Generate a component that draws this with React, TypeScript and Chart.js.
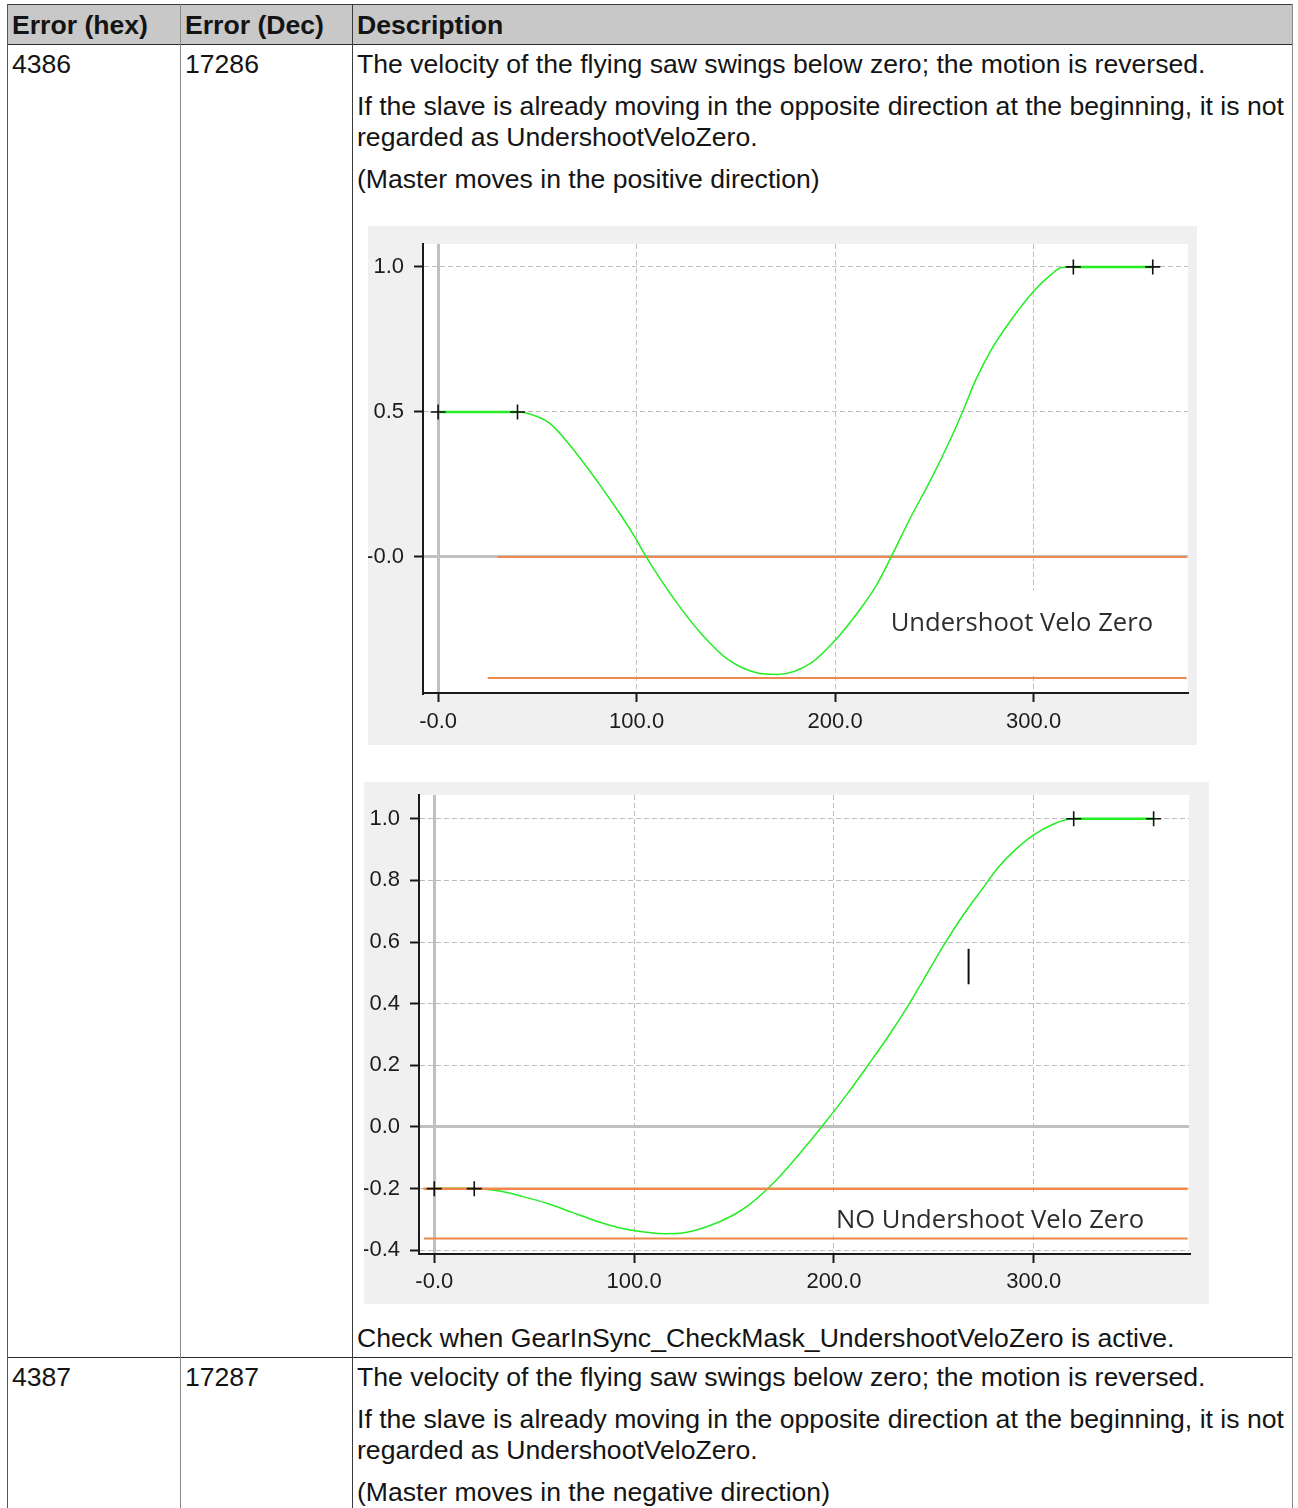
import React, { useEffect, useRef } from 'react';
import { Chart, registerables } from 'chart.js';

Chart.register(...registerables);

// ---------- shared axis ticks ----------
const X_TICKS = [0, 100, 200, 300];
const X_TICK_LABELS = ['-0.0', '100.0', '200.0', '300.0'];

// ---------- chart 1 : Undershoot Velo Zero ----------
const C1_Y_TICKS = [0, 0.5, 1.0];
const C1_Y_TICK_LABELS = ['-0.0', '0.5', '1.0'];
const C1_X = [0, 40, 44, 56, 67, 81, 91, 99, 104, 111, 121, 132, 146, 161, 171, 188, 199, 211, 221, 228, 238, 248, 258, 264, 271, 279, 288, 300, 308, 314, 320, 360];
const C1_VELO = [0.5, 0.5, 0.497, 0.462, 0.38, 0.253, 0.155, 0.07, 0.01, -0.066, -0.165, -0.26, -0.353, -0.4, -0.405, -0.365, -0.295, -0.195, -0.095, -0.003, 0.136, 0.264, 0.404, 0.497, 0.613, 0.718, 0.811, 0.916, 0.969, 0.998, 1.0, 1.0];
const C1_MARK_X = [0, 40, 320, 360];
const C1_MARK_Y = [0.5, 0.5, 1.0, 1.0];
const C1_LIMIT_HIGH_X = [30, 377];
const C1_LIMIT_HIGH_Y = [0, 0];
const C1_LIMIT_LOW_X = [25, 377];
const C1_LIMIT_LOW_Y = [-0.417, -0.417];
const C1_LABEL = 'Undershoot Velo Zero';

// ---------- chart 2 : NO Undershoot Velo Zero ----------
const C2_Y_TICKS = [-0.4, -0.2, 0, 0.2, 0.4, 0.6, 0.8, 1.0];
const C2_Y_TICK_LABELS = ['-0.4', '-0.2', '0.0', '0.2', '0.4', '0.6', '0.8', '1.0'];
const C2_X = [0, 20, 32, 44, 57, 69, 81, 92, 104, 115, 125, 137, 149, 157, 166, 173, 183, 195, 207, 217, 227, 237, 245, 255, 265, 274, 282, 290, 300, 310, 317, 320, 360];
const C2_VELO = [-0.2, -0.2, -0.207, -0.225, -0.249, -0.277, -0.305, -0.326, -0.34, -0.346, -0.343, -0.322, -0.288, -0.255, -0.205, -0.16, -0.085, 0.01, 0.11, 0.2, 0.292, 0.392, 0.48, 0.59, 0.69, 0.77, 0.84, 0.895, 0.948, 0.983, 0.998, 1.0, 1.0];
const C2_MARK_X = [0, 20, 320, 360];
const C2_MARK_Y = [-0.2, -0.2, 1.0, 1.0];
const C2_LIMIT_HIGH_X = [-5.5, 377];
const C2_LIMIT_HIGH_Y = [-0.2, -0.2];
const C2_LIMIT_LOW_X = [-5.2, 377];
const C2_LIMIT_LOW_Y = [-0.362, -0.362];
const C2_CURSOR_X = [267.4, 267.4];
const C2_CURSOR_Y = [0.463, 0.578];
const C2_LABEL = 'NO Undershoot Velo Zero';

// ---------- helpers ----------
const pts = (xs: number[], ys: number[]) => xs.map((x, i) => ({ x, y: ys[i] }));
const isZero = (c: any) => !!c && !!c.tick && Math.abs(c.tick.value) < 1e-9;

const GREEN = '#22ee22';
const ORANGE = '#f0884c';
const TICK_FONT = { family: '"Liberation Sans", Arial, sans-serif', size: 22 };

function makeAxis(min: number, max: number, ticks: number[], labels: string[], isX: boolean, size: number, pad: number) {
  return {
    type: 'linear',
    min,
    max,
    bounds: 'data',
    afterBuildTicks: (s: any) => {
      s.ticks = ticks.map((v) => ({ value: v }));
    },
    afterFit: (s: any) => {
      if (isX) s.height = size;
      else s.width = size;
      s.paddingTop = 0;
      s.paddingBottom = 0;
      s.paddingLeft = 0;
      s.paddingRight = 0;
    },
    grid: {
      color: (c: any) => (isZero(c) ? '#c0c0c0' : '#bdbdbd'),
      lineWidth: (c: any) => (isZero(c) ? 3 : 1),
      drawTicks: true,
      tickLength: 9,
      tickWidth: 2,
      tickColor: '#1a1a1a',
    },
    border: {
      display: true,
      color: '#1a1a1a',
      width: 2,
      dash: (c: any) => (isZero(c) ? [] : [5, 3]),
    },
    ticks: {
      autoSkip: false,
      maxRotation: 0,
      minRotation: 0,
      padding: pad,
      color: '#1c1c1c',
      font: TICK_FONT,
      callback: (_v: any, i: number) => labels[i],
    },
  };
}

const panelPlugin = {
  id: 'panel',
  beforeDraw(chart: any) {
    const { ctx, chartArea: a } = chart;
    ctx.save();
    ctx.fillStyle = '#ffffff';
    ctx.fillRect(a.left, a.top, a.right - a.left, a.bottom - a.top);
    ctx.restore();
  },
  beforeDatasetsDraw(chart: any, _args: any, opts: any) {
    if (!opts || !opts.text) return;
    const { ctx } = chart;
    const xs = chart.scales.x;
    const ys = chart.scales.y;
    ctx.save();
    const bx0 = xs.getPixelForValue(opts.box[0]);
    const bx1 = xs.getPixelForValue(opts.box[1]);
    const by0 = ys.getPixelForValue(opts.box[2]);
    const by1 = ys.getPixelForValue(opts.box[3]);
    ctx.fillStyle = '#ffffff';
    ctx.fillRect(bx0, by0, bx1 - bx0, by1 - by0);
    ctx.font = '25.6px "Open Sans", "Noto Sans", sans-serif';
    ctx.fillStyle = '#2e2e2e';
    ctx.textBaseline = 'alphabetic';
    ctx.textAlign = 'left';
    ctx.fillText(opts.text, xs.getPixelForValue(opts.x), ys.getPixelForValue(opts.y));
    ctx.restore();
  },
};

function veloDataset(xs: number[], ys: number[], order: number) {
  return {
    data: pts(xs, ys),
    showLine: true,
    borderColor: GREEN,
    borderWidth: 1.5,
    pointRadius: 0,
    cubicInterpolationMode: 'monotone',
    order,
    segment: {
      borderWidth: (c: any) => (c.p0.parsed.y === c.p1.parsed.y ? 2.5 : 1.5),
    },
  };
}

function lineDataset(xs: number[], ys: number[], color: string, width: number, order: number) {
  return { data: pts(xs, ys), showLine: true, borderColor: color, borderWidth: width, pointRadius: 0, order };
}

function markerDataset(xs: number[], ys: number[], order: number) {
  return {
    data: pts(xs, ys),
    showLine: false,
    pointStyle: 'cross',
    pointRadius: 7.5,
    borderColor: '#111111',
    borderWidth: 1.6,
    order,
  };
}

function baseOptions(padding: any, scales: any, label: any) {
  return {
    responsive: false,
    maintainAspectRatio: false,
    animation: false,
    devicePixelRatio: 1,
    events: [],
    layout: { padding },
    plugins: { legend: { display: false }, tooltip: { enabled: false }, title: { display: false }, panel: label },
    scales,
  };
}

const chart1Config = () => ({
  type: 'scatter',
  data: {
    datasets: [
      markerDataset(C1_MARK_X, C1_MARK_Y, 0),
      veloDataset(C1_X, C1_VELO, 1),
      lineDataset(C1_LIMIT_HIGH_X, C1_LIMIT_HIGH_Y, ORANGE, 2, 2),
      lineDataset(C1_LIMIT_LOW_X, C1_LIMIT_LOW_Y, ORANGE, 2, 3),
    ],
  },
  options: baseOptions(
    { left: 0, top: 18, right: 4, bottom: 0 },
    {
      x: makeAxis(-7.6, 377.7, X_TICKS, X_TICK_LABELS, true, 52, 7),
      y: makeAxis(-0.469, 1.079, C1_Y_TICKS, C1_Y_TICK_LABELS, false, 55, 10),
    },
    { text: C1_LABEL, x: 228, y: -0.254, box: [215, 374, -0.115, -0.405] }
  ),
  plugins: [panelPlugin],
});

const chart2Config = () => ({
  type: 'scatter',
  data: {
    datasets: [
      markerDataset(C2_MARK_X, C2_MARK_Y, 0),
      lineDataset(C2_CURSOR_X, C2_CURSOR_Y, '#111111', 2, 1),
      lineDataset(C2_LIMIT_HIGH_X, C2_LIMIT_HIGH_Y, ORANGE, 2.5, 2),
      lineDataset(C2_LIMIT_LOW_X, C2_LIMIT_LOW_Y, ORANGE, 2, 3),
      veloDataset(C2_X, C2_VELO, 4),
    ],
  },
  options: baseOptions(
    { left: 0, top: 13, right: 20, bottom: 0 },
    {
      x: makeAxis(-7.65, 377.7, X_TICKS, X_TICK_LABELS, true, 50, 6),
      y: makeAxis(-0.412, 1.077, C2_Y_TICKS, C2_Y_TICK_LABELS, false, 55, 10),
    },
    { text: C2_LABEL, x: 201, y: -0.327, box: [190, 376, -0.212, -0.352] }
  ),
  plugins: [panelPlugin],
});

function ChartCanvas({ make, left, top, width, height }: any) {
  const ref = useRef<HTMLCanvasElement | null>(null);
  useEffect(() => {
    if (!ref.current) return;
    const chart = new Chart(ref.current, make() as any);
    return () => chart.destroy();
  }, [make]);
  return (
    <canvas
      ref={ref}
      width={width}
      height={height}
      style={{ position: 'absolute', left, top, width, height, display: 'block', background: '#f0f0f0' }}
    />
  );
}

function Txt({ x, y, bold, children }: any) {
  return (
    <div
      style={{
        position: 'absolute',
        left: x,
        top: y,
        lineHeight: '31px',
        whiteSpace: 'nowrap',
        fontWeight: bold ? 700 : 400,
      }}
    >
      {children}
    </div>
  );
}

function HLine({ y, color }: any) {
  return <div style={{ position: 'absolute', left: 7, top: y, width: 1286, height: 1, background: color }} />;
}
function VLine({ x, color }: any) {
  return <div style={{ position: 'absolute', left: x, top: 4, width: 1, height: 1504, background: color }} />;
}

export default function App() {
  return (
    <div
      style={{
        position: 'absolute',
        left: 0,
        top: 0,
        width: 1298,
        height: 1508,
        overflow: 'hidden',
        background: '#ffffff',
        fontFamily: '"Liberation Sans", Arial, sans-serif',
        fontSize: '26.6px',
        color: '#141414',
      }}
    >
      <div style={{ position: 'absolute', left: 7, top: 4, width: 1286, height: 40, background: '#c8c8c8' }} />
      <HLine y={4} color="#3a3a3a" />
      <HLine y={44} color="#2a2a2a" />
      <HLine y={1357} color="#2a2a2a" />
      <VLine x={7} color="#555555" />
      <VLine x={180} color="#8a8a8a" />
      <VLine x={352} color="#3a3a3a" />
      <VLine x={1292} color="#8a8a8a" />

      <Txt x={12} y={9.5} bold>Error (hex)</Txt>
      <Txt x={185} y={9.5} bold>Error (Dec)</Txt>
      <Txt x={357} y={9.5} bold>Description</Txt>

      <Txt x={12} y={48.5}>4386</Txt>
      <Txt x={185} y={48.5}>17286</Txt>
      <Txt x={357} y={48.5}>The velocity of the flying saw swings below zero; the motion is reversed.</Txt>
      <Txt x={357} y={90.5}>
        If the slave is already moving in the opposite direction at the beginning, it is not
        <br />
        regarded as UndershootVeloZero.
      </Txt>
      <Txt x={357} y={163.5}>(Master moves in the positive direction)</Txt>

      <ChartCanvas make={chart1Config} left={368} top={226} width={829} height={519} />
      <ChartCanvas make={chart2Config} left={364} top={782} width={845} height={522} />

      <Txt x={357} y={1322.5}>Check when GearInSync_CheckMask_UndershootVeloZero is active.</Txt>

      <Txt x={12} y={1361.5}>4387</Txt>
      <Txt x={185} y={1361.5}>17287</Txt>
      <Txt x={357} y={1361.5}>The velocity of the flying saw swings below zero; the motion is reversed.</Txt>
      <Txt x={357} y={1403.5}>
        If the slave is already moving in the opposite direction at the beginning, it is not
        <br />
        regarded as UndershootVeloZero.
      </Txt>
      <Txt x={357} y={1476.5}>(Master moves in the negative direction)</Txt>
    </div>
  );
}
